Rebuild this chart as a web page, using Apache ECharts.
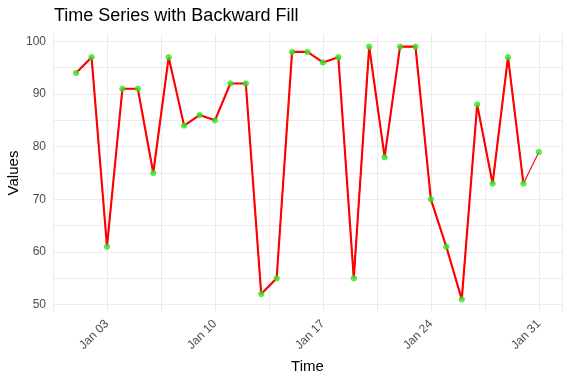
<!DOCTYPE html>
<html>
<head>
<meta charset="utf-8">
<script src="https://cdn.jsdelivr.net/npm/echarts@6/dist/echarts.min.js"></script>
<style>html,body{margin:0;padding:0;background:#fff}#c{width:569px;height:380px}</style>
</head>
<body>
<div id="c"></div>
<script>
// Day of month (January)
const days = [1,2,3,4,5,6,7,8,9,10,11,12,13,14,15,16,17,18,19,20,21,22,23,24,25,26,27,28,29,30,31];
const values = [94,97,61,91,91,75,97,84,86,85,92,92,52,55,98,98,96,97,55,99,78,99,99,70,61,51,88,73,97,73,79];
// Original (thick) series ends before last day
const thickValues = [94,97,61,91,91,75,97,84,86,85,92,92,52,55,98,98,96,97,55,99,78,99,99,70,61,51,88,73,97,73,null];
const xTickDays = [3,10,17,24,31];
const xTickLabels = ['Jan 03','Jan 10','Jan 17','Jan 24','Jan 31'];
const yTickLabels = [50,60,70,80,90,100];
const yGridValues = [50,55,60,65,70,75,80,85,90,95,100];

const OFF = 0.5; // axis offset so ticks start on a multiple of the interval
const toX = d => d + OFF;

const chart = echarts.init(document.getElementById('c'), null, {renderer: 'canvas'});
const grid = '#EBEBEB';
const font = 'Liberation Sans, Arial';
chart.setOption({
  animation: false,
  backgroundColor: '#ffffff',
  title: {
    text: 'Time Series with Backward Fill',
    left: 54, top: 7, padding: 0,
    textStyle: {fontFamily: font, fontSize: 18, fontWeight: 'normal', color: '#000'}
  },
  graphic: [{
    type: 'text', x: 14, y: 173, rotation: Math.PI / 2,
    style: {text: 'Values', fontFamily: font, fontSize: 15, fill: '#000', align: 'center', verticalAlign: 'middle'}
  }],
  grid: {left: 53, right: 7, top: 34, bottom: 68, containLabel: false, outerBoundsMode: 'none'},
  xAxis: {
    type: 'value', min: 0, max: 33, interval: 3.5,
    name: 'Time', nameLocation: 'middle', nameGap: 47,
    nameTextStyle: {fontFamily: font, fontSize: 15, color: '#000'},
    axisLine: {show: false}, axisTick: {show: false},
    splitLine: {show: true, lineStyle: {color: grid, width: 1}},
    axisLabel: {
      rotate: 45, margin: 10, color: '#4D4D4D', fontSize: 12, fontFamily: font,
      showMinLabel: true, showMaxLabel: true,
      formatter: v => {
        const d = Math.round((v - OFF) * 10) / 10;
        const i = xTickDays.indexOf(d);
        return i >= 0 ? xTickLabels[i] : '';
      }
    }
  },
  yAxis: {
    type: 'value', min: 48.6, max: 101.4,
    axisLine: {show: false},
    axisTick: {show: false, customValues: yGridValues},
    splitLine: {show: true, lineStyle: {color: grid, width: 1}},
    axisLabel: {
      margin: 7, color: '#4D4D4D', fontSize: 12, fontFamily: font,
      customValues: yTickLabels
    }
  },
  series: [
    {
      type: 'line', data: days.map((d, i) => [toX(d), values[i]]),
      symbol: 'none', lineStyle: {color: '#FF0000', width: 1.1}, z: 2
    },
    {
      type: 'line', data: days.map((d, i) => [toX(d), thickValues[i]]),
      symbol: 'none', connectNulls: false, lineStyle: {color: '#FF0000', width: 2.1}, z: 3
    },
    {
      type: 'scatter', data: days.map((d, i) => [toX(d), values[i]]),
      symbol: 'circle', symbolSize: 5.5,
      itemStyle: {color: '#33EE22', borderColor: '#22CC11', borderWidth: 0.6}, z: 4
    }
  ]
});
</script>
</body>
</html>
